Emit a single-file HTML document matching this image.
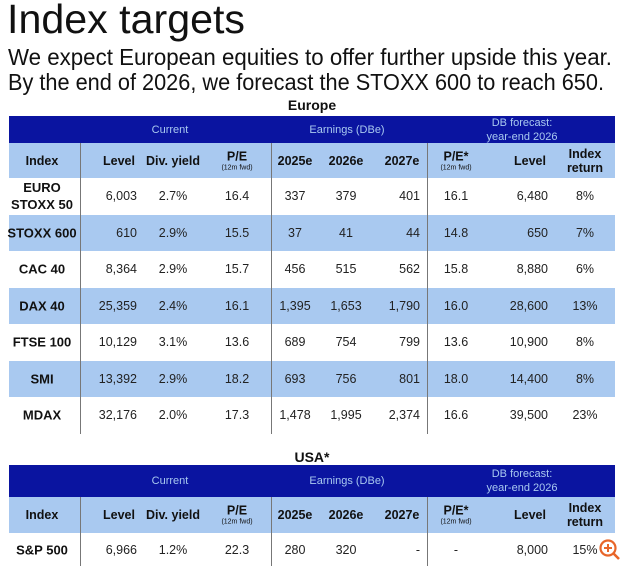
<!DOCTYPE html>
<html><head><meta charset="utf-8">
<style>
body{margin:0;width:624px;height:565px;background:#fff;overflow:hidden;font-family:"Liberation Sans",Arial,sans-serif;position:relative}
.a{position:absolute;white-space:nowrap}
.fit{transform-origin:0 0}
.dark{position:absolute;left:9px;width:606px;background:#0a14a0}
.light{position:absolute;left:9px;width:606px;background:#a9c9f0}
.cell{position:absolute;font-size:12.5px;color:#222;white-space:nowrap;transform:translateY(-50%)}
.hb{font-weight:bold;color:#111;font-size:12.5px;text-align:center;line-height:14px}
.sub{font-size:7px;font-weight:normal;display:block;line-height:9px}
.vl{position:absolute;width:1px;background:#777}
</style></head>
<body>
<div class="a fit" style="left:7px;top:-4px;font-size:41px;color:#111;" data-w="238">Index targets</div>
<div class="a fit" style="left:8px;top:44px;font-size:23px;color:#111;" data-w="604">We expect European equities to offer further upside this year.</div>
<div class="a fit" style="left:8px;top:69px;font-size:23px;color:#111;" data-w="596">By the end of 2026, we forecast the STOXX 600 to reach 650.</div>
<div id="root"></div>
<svg class="a" style="left:598px;top:538px" width="24" height="24" viewBox="0 0 24 24"><circle cx="10" cy="10" r="7.5" fill="none" stroke="#e8662a" stroke-width="2.2"/><line x1="15.5" y1="15.5" x2="21" y2="21" stroke="#e8662a" stroke-width="2.6"/><line x1="6" y1="10" x2="14" y2="10" stroke="#e8662a" stroke-width="2"/><line x1="10" y1="6" x2="10" y2="14" stroke="#e8662a" stroke-width="2"/></svg>
<script>
const headers=["Index","Level","Div. yield","P/E","2025e","2026e","2027e","P/E*","Level","Index return"];
const europeRows=[
["EURO STOXX 50","6,003","2.7%","16.4","337","379","401","16.1","6,480","8%"],
["STOXX 600","610","2.9%","15.5","37","41","44","14.8","650","7%"],
["CAC 40","8,364","2.9%","15.7","456","515","562","15.8","8,880","6%"],
["DAX 40","25,359","2.4%","16.1","1,395","1,653","1,790","16.0","28,600","13%"],
["FTSE 100","10,129","3.1%","13.6","689","754","799","13.6","10,900","8%"],
["SMI","13,392","2.9%","18.2","693","756","801","18.0","14,400","8%"],
["MDAX","32,176","2.0%","17.3","1,478","1,995","2,374","16.6","39,500","23%"]];
const usaRows=[["S&P 500","6,966","1.2%","22.3","280","320","-","-","8,000","15%"]];
// column layout: [x, align]
const cols=[[42,'c'],[137,'r'],[173,'c'],[237,'c'],[295,'c'],[346,'c'],[420,'r'],[456,'c'],[548,'r'],[585,'c']];
const root=document.getElementById('root');
function mk(cls,name,style,html){const d=document.createElement('div');d.className=cls;d.style.cssText=style;if(html!==undefined)d.innerHTML=html;


root.appendChild(d);return d;}
function place(el,col){const [x,a]=cols[col];if(a==='c'){el.style.left=x+'px';el.style.transform='translate(-50%,-50%)';}else{el.style.left=x+'px';el.style.transform='translate(-100%,-50%)';}}
function table(name,title,titleY,top,rows,rowH){
  mk('a',name+'-title','left:0;width:624px;text-align:center;top:'+titleY+'px;font-size:14px;font-weight:bold;color:#111',title);
  mk('dark',name+'-group-header','top:'+top+'px;height:'+(rowH[0])+'px');
  const dy=top+rowH[0]/2;
  mk('cell',name+'-group-current','left:170px;top:'+dy+'px;color:#a9c9f0;font-size:11px;transform:translate(-50%,-50%)','Current');
  mk('cell',name+'-group-earnings','left:347px;top:'+dy+'px;color:#a9c9f0;font-size:11px;transform:translate(-50%,-50%)','Earnings (DBe)');
  mk('cell',name+'-group-forecast','left:522px;top:'+dy+'px;color:#a9c9f0;font-size:11px;text-align:center;line-height:14px;transform:translate(-50%,-50%)','DB forecast:<br>year-end 2026');
  const lt=top+rowH[0];
  mk('light',name+'-column-header','top:'+lt+'px;height:'+rowH[1]+'px');
  const ly=lt+rowH[1]/2;
  headers.forEach((h,i)=>{let t=h;
    if(i===3||i===7)t=h+'<span class="sub">(12m fwd)</span>';
    if(i===9)t='Index<br>return';
    const e=mk('cell hb',name+'-header-'+h.toLowerCase().replace(/[^a-z0-9]+/g,'-'),'top:'+ly+'px',t);
    e.style.left=(cols[i][0]+(cols[i][1]==='r'?-18:0))+'px';e.style.transform='translate(-50%,-50%)';});
  let y=lt+rowH[1];
  rows.forEach((r,ri)=>{
    const h=rowH[2];
    if(ri%2===1)mk('light',name+'-row-bg-'+ri,'top:'+y+'px;height:'+h+'px');
    r.forEach((v,ci)=>{
      let t=v;if(ci===0&&v==='EURO STOXX 50')t='EURO<br>STOXX 50';
      const e=mk('cell'+(ci===0?' hb':''),name+'-cell-'+ri+'-'+ci,'top:'+(y+h/2)+'px',t);
      if(ci===0){e.style.left='42px';e.style.transform='translate(-50%,-50%)';e.style.fontSize='13px';e.style.lineHeight='17px';}
      else place(e,ci);
    });
    y+=h;
  });
  [80,271,427].forEach((x,i)=>mk('vl',name+'-divider-'+i,'left:'+x+'px;top:'+lt+'px;height:'+(y-lt)+'px'));
}
table('europe','Europe',97,116,europeRows,[27,35,36.5]);
table('usa','USA*',449,465,usaRows,[32,36,33]);
document.querySelectorAll('.fit').forEach(e=>{const w=e.getBoundingClientRect().width;e.style.transform='scaleX('+(+e.dataset.w/w)+')';});
</script>
</body></html>
